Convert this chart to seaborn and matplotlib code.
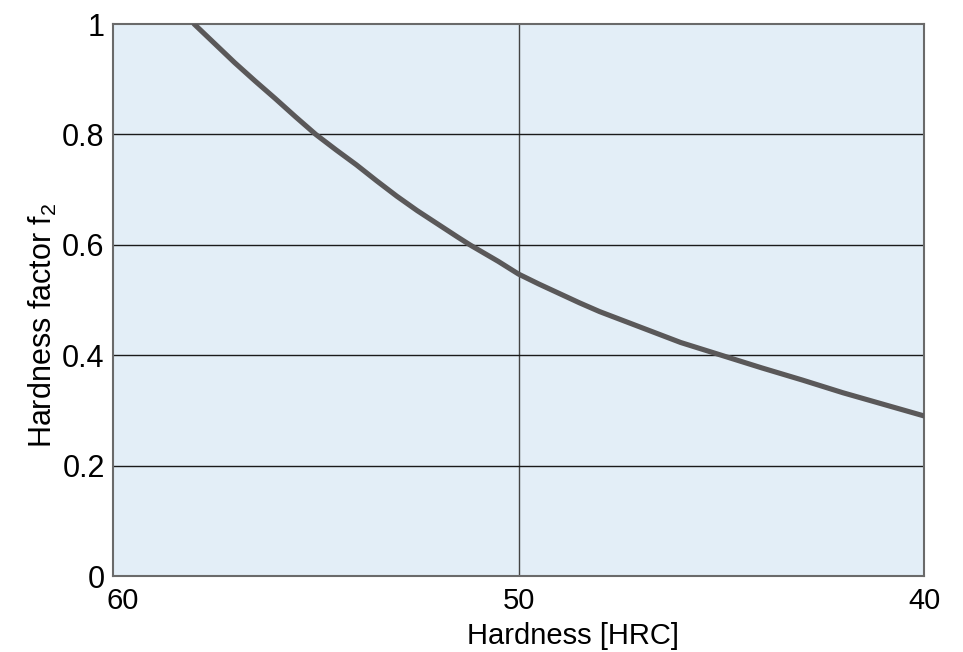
import matplotlib
matplotlib.use("Agg")
import matplotlib.pyplot as plt
import matplotlib.transforms as mtransforms
import pandas as pd
import seaborn as sns

# Curve
hardness_hrc = [58.0, 57.5, 57.0, 56.5, 56.0, 55.5, 55.0, 54.5, 54.0, 53.5, 53.0, 52.5, 52.0, 51.5, 51.2,
                50.5, 50.0, 49.5, 49.0, 48.5, 48.0, 47.0, 46.0, 45.0, 44.0, 43.0, 42.0, 41.0, 40.0]
hardness_factor = [1.0, 0.965, 0.930, 0.897, 0.865, 0.832, 0.800, 0.772, 0.745, 0.716, 0.688, 0.662, 0.638,
                   0.614, 0.600, 0.570, 0.547, 0.529, 0.512, 0.495, 0.479, 0.451, 0.423, 0.400, 0.377,
                   0.355, 0.332, 0.311, 0.290]

x_ticks = [60, 50, 40]
y_ticks = [0, 0.2, 0.4, 0.6, 0.8, 1]
y_tick_labels = ["0", "0.2", "0.4", "0.6", "0.8", "1"]

sns.set_style("white")
plt.rcParams["font.family"] = ["Liberation Sans", "DejaVu Sans"]
plt.rcParams["text.color"] = "black"
plt.rcParams["axes.labelcolor"] = "black"
plt.rcParams["xtick.color"] = "black"
plt.rcParams["ytick.color"] = "black"

df = pd.DataFrame({"hrc": hardness_hrc, "f2": hardness_factor})

fig, ax = plt.subplots(figsize=(9.63, 6.52), dpi=100)
fig.subplots_adjust(left=113 / 963, right=924 / 963, top=1 - 24 / 652, bottom=1 - 576 / 652)

ax.set_facecolor("#e3eef7")
ax.axvline(50, color="#444444", lw=1.0, zorder=1)
for yv in [0.2, 0.4, 0.6, 0.8]:
    ax.axhline(yv, color="#1a1a1a", lw=1.0, zorder=1)

sns.lineplot(data=df, x="hrc", y="f2", ax=ax, color="#5a5859", lw=3.7, zorder=3)

ax.set_xlim(60, 40)
ax.set_ylim(0, 1)
ax.set_xticks(x_ticks)
ax.set_xticklabels([str(v) for v in x_ticks], fontsize=21)
ax.set_yticks(y_ticks)
ax.set_yticklabels(y_tick_labels, fontsize=22)
ax.tick_params(axis="x", length=0, pad=8)
ax.tick_params(axis="y", length=0, pad=6)

# first x label sits a little to the right of its tick in the original
first = ax.get_xticklabels()[0]
first.set_transform(first.get_transform() + mtransforms.ScaledTranslation(10 / 100, 0, fig.dpi_scale_trans))

for s in ax.spines.values():
    s.set_color("#6a6a6a")
    s.set_linewidth(1.5)

ax.set_xlabel("Hardness [HRC]", fontsize=21)
ax.xaxis.set_label_coords(0.567, -0.083)
ax.set_ylabel("Hardness factor f$\\mathregular{_2}$", fontsize=22)
ax.yaxis.set_label_coords(-0.066, 0.455)

fig.savefig("out.png", dpi=100)
